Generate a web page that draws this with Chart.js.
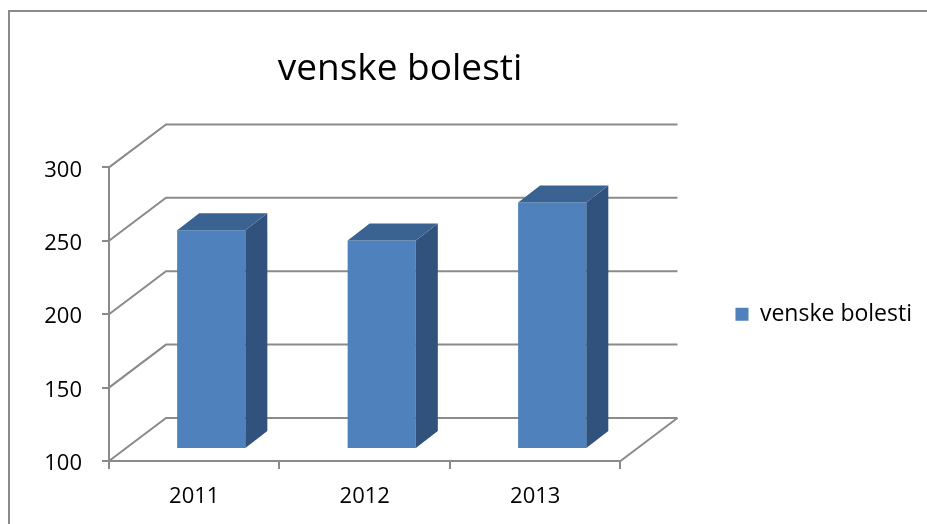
<!DOCTYPE html>
<html>
<head>
<meta charset="utf-8">
<title>venske bolesti</title>
<script src="https://cdn.jsdelivr.net/npm/chart.js@4.4.0/dist/chart.umd.min.js"></script>
<style>
  html, body { margin: 0; padding: 0; background: #fff; overflow: hidden; }
  #frame {
    position: absolute; left: 8px; top: 10px;
    width: 1000px; height: 600px;
    border: 2px solid #8a8a8a;
  }
  #chart { position: absolute; left: 0; top: 0; }
</style>
</head>
<body>
<div id="frame"></div>
<canvas id="chart" width="927" height="524"></canvas>
<script>
// podaci
const godine = ['2011', '2012', '2013'];
const slucajevi = [249, 242, 268];
const yTicks = [100, 150, 200, 250, 300];
const naslov = 'venske bolesti';

// 3D izgled (pomaci u pikselima)
const DX = 57, DY = -43;    // dubina zadnjeg zida
const BX = 17, BY = -12;    // prednja strana stupca
const BDX = 22, BDY = -17;  // dubina stupca
const GRID = '#8a8a8a';

const zid3d = {
    id: 'zid3d',
    afterLayout(chart) {
        // naslov je centriran malo lijevo od sredine
        const t = chart.titleBlock;
        if (t) { t.left = 0; t.right = 800; }
    },
    beforeDatasetsDraw(chart) {
        const ctx = chart.ctx;
        const a = chart.chartArea;
        const y = chart.scales.y;
        ctx.save();
        ctx.strokeStyle = GRID;
        ctx.lineWidth = 2;
        y.ticks.forEach(t => {
            const py = y.getPixelForValue(t.value);
            ctx.beginPath();
            ctx.moveTo(a.left, py);
            ctx.lineTo(a.left + DX, py + DY);
            ctx.lineTo(a.right + DX, py + DY);
            ctx.stroke();
        });
        // desni rub poda
        ctx.beginPath();
        ctx.moveTo(a.right, a.bottom);
        ctx.lineTo(a.right + DX, a.bottom + DY);
        ctx.stroke();
        ctx.restore();

        ctx.save();
        ctx.translate(BX, BY);
    },
    afterDatasetsDraw(chart) {
        const ctx = chart.ctx;
        ctx.restore();
        chart.getDatasetMeta(0).data.forEach(bar => {
            const p = bar.getProps(['x', 'y', 'base', 'width'], true);
            const l = p.x - p.width / 2 + BX;
            const r = p.x + p.width / 2 + BX;
            const t = p.y + BY;
            const b = p.base + BY;
            // bocna strana
            ctx.fillStyle = '#31527c';
            ctx.beginPath();
            ctx.moveTo(r, t);
            ctx.lineTo(r + BDX, t + BDY);
            ctx.lineTo(r + BDX, b + BDY);
            ctx.lineTo(r, b);
            ctx.closePath();
            ctx.fill();
            // gornja strana
            ctx.fillStyle = '#3b6391';
            ctx.beginPath();
            ctx.moveTo(l, t);
            ctx.lineTo(l + BDX, t + BDY);
            ctx.lineTo(r + BDX, t + BDY);
            ctx.lineTo(r, t);
            ctx.closePath();
            ctx.fill();
        });
    }
};

Chart.defaults.font.family = "'Open Sans'";
Chart.defaults.color = '#000';

const ctx = document.getElementById('chart').getContext('2d');
window.grafikon = new Chart(ctx, {
    type: 'bar',
    data: {
        labels: godine,
        datasets: [{
            label: 'venske bolesti',
            data: slucajevi,
            base: yTicks[0],
            backgroundColor: '#4f81bd',
            borderWidth: 0,
            barPercentage: 0.4,
            categoryPercentage: 1.0
        }]
    },
    options: {
        responsive: false,
        animation: false,
        devicePixelRatio: 1,
        layout: { padding: { left: 0, right: 5, top: 0, bottom: 0 } },
        plugins: {
            title: {
                display: true,
                text: naslov,
                font: { size: 37, weight: 'normal' },
                padding: { top: 47, bottom: 76 }
            },
            legend: {
                position: 'right',
                fullSize: false,
                maxWidth: 400,
                labels: {
                    font: { size: 23 },
                    boxWidth: 13,
                    boxHeight: 13,
                    padding: 115
                }
            },
            tooltip: { enabled: false }
        },
        scales: {
            x: {
                grid: {
                    drawOnChartArea: false,
                    drawTicks: true,
                    tickLength: 8,
                    color: GRID,
                    lineWidth: 2
                },
                border: { display: true, color: GRID, width: 2 },
                ticks: { font: { size: 22 }, padding: 15 },
                afterFit(scale) { scale.height = 63; }
            },
            y: {
                min: yTicks[0],
                max: yTicks[yTicks.length - 1],
                grid: {
                    drawOnChartArea: false,
                    drawTicks: true,
                    tickLength: 7,
                    color: GRID,
                    lineWidth: 2
                },
                border: { display: true, color: GRID, width: 2 },
                ticks: { stepSize: 50, font: { size: 22 }, padding: 20, labelOffset: 3 },
                afterFit(scale) { scale.width = 109; }
            }
        }
    },
    plugins: [zid3d]
});
</script>
</body>
</html>
